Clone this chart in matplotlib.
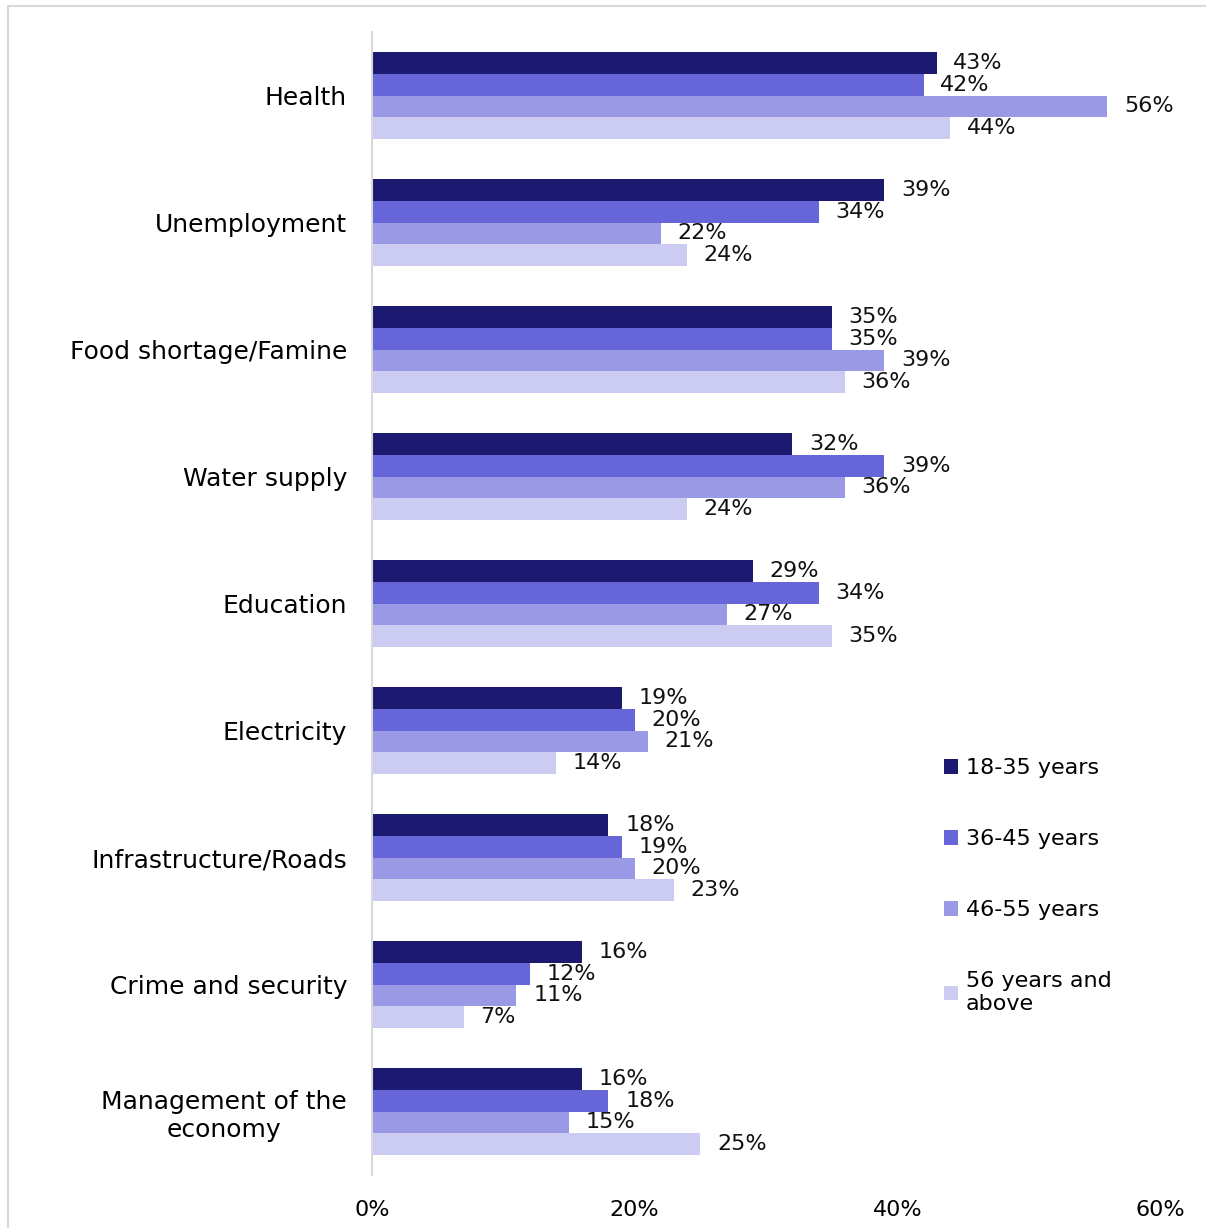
import numpy as np
import matplotlib.pyplot as plt
from matplotlib.patches import Rectangle

categories = ['Health', 'Unemployment', 'Food shortage/Famine', 'Water supply', 'Education',
              'Electricity', 'Infrastructure/Roads', 'Crime and security',
              'Management of the\neconomy']
series_names = ['18-35 years', '36-45 years', '46-55 years', '56 years and\nabove']
age_18_35 = [43, 39, 35, 32, 29, 19, 18, 16, 16]
age_36_45 = [42, 34, 35, 39, 34, 20, 19, 12, 18]
age_46_55 = [56, 22, 39, 36, 27, 21, 20, 11, 15]
age_56_up = [44, 24, 36, 24, 35, 14, 23, 7, 25]
x_ticks = [0, 20, 40, 60]

colors = ['#1c1a70', '#6666d9', '#9999e6', '#ccccf2']

plt.rcParams['font.family'] = ['DejaVu Sans']

fig = plt.figure(figsize=(12.06, 12.28), dpi=100)
ax = fig.add_axes([372 / 1206, 1 - 1175 / 1228, (1160 - 372) / 1206, (1175 - 32) / 1228])

# 外框
fig.patches.append(Rectangle((8 / 1206, -0.1), 1.1, 1 - 6 / 1228 + 0.1, transform=fig.transFigure,
                             fill=False, edgecolor='#d9d9d9', linewidth=1.5))

y = np.arange(len(categories))
h = 0.173
all_series = [age_18_35, age_36_45, age_46_55, age_56_up]
for i, (vals, name, c) in enumerate(zip(all_series, series_names, colors)):
    pos = y + (i - 1.5) * h
    ax.barh(pos, vals, height=h, color=c, label=name)
    for p, v in zip(pos, vals):
        ax.annotate(f'{v}%', (v, p), xytext=(12, 0), textcoords='offset points',
                    va='center', ha='left', fontsize=16, color='#111111')

ax.set_ylim(len(categories) - 0.5, -0.5)
ax.set_xlim(0, 60)
ax.set_yticks(y)
ax.set_yticklabels(categories, fontsize=18, ha='right', multialignment='center')
ax.tick_params(axis='y', length=0, pad=18)
ax.set_xticks(x_ticks)
ax.set_xticklabels([f'{t}%' for t in x_ticks], fontsize=16)
ax.tick_params(axis='x', length=0, pad=18)

for s in ['top', 'right', 'bottom']:
    ax.spines[s].set_visible(False)
ax.spines['left'].set_color('#d9d9d9')
ax.spines['left'].set_linewidth(1.5)

fig.legend(loc='upper left', bbox_to_anchor=(935 / 1206, 1 - 749 / 1228), frameon=False,
           fontsize=16, handlelength=0.65, handleheight=0.65, handletextpad=0.35,
           labelspacing=2.3, borderaxespad=0)

plt.savefig('out.png', dpi=100)
